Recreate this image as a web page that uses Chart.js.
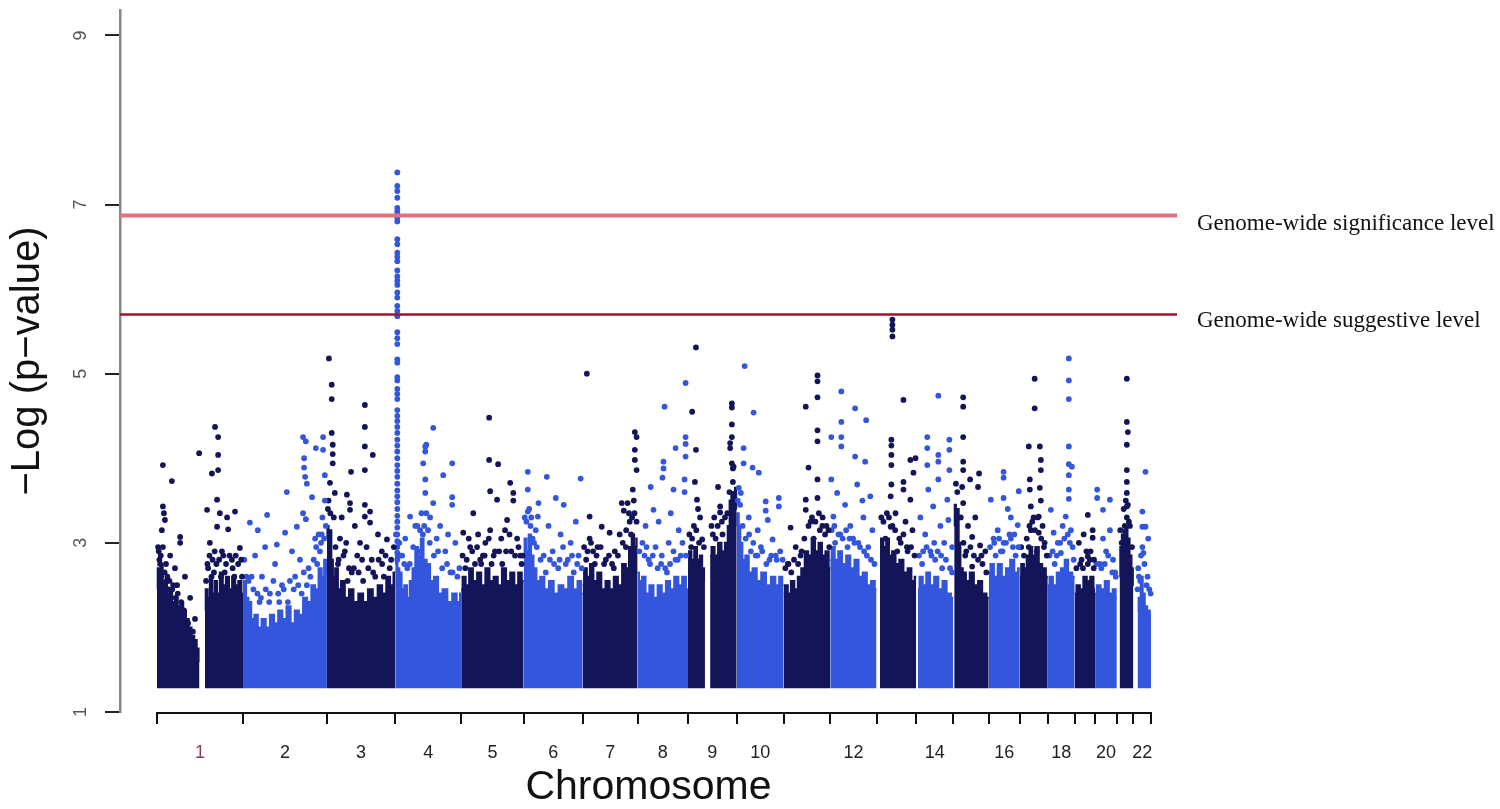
<!DOCTYPE html>
<html>
<head>
<meta charset="utf-8">
<script src="https://cdn.jsdelivr.net/npm/chart.js@4.4.0/dist/chart.umd.min.js"></script>
<style>
  html, body { margin: 0; background: #fff; }
  #wrap { width: 1500px; height: 809px; }
</style>
</head>
<body>
<div id="wrap"><canvas id="manhattan" width="1500" height="809"></canvas></div>
<script>
// Chromosome lengths (Mb) and axis labels
const chromLengthsMb = [249, 243, 198, 191, 181, 171, 159, 146, 141, 136, 135, 134, 115, 107, 103, 90, 81, 78, 59, 63, 48, 51];
const chromAxisLabels = ['1', '2', '3', '4', '5', '6', '7', '8', '9', '10', '', '12', '', '14', '', '16', '', '18', '', '20', '', '22'];
const yTicks = [1, 3, 5, 7, 9];

const significanceLevel = 6.87;
const suggestiveLevel = 5.7;
const bandBase = 1.28;

// Top of the dense SNP mass per chromosome: [position Mb, -log10 p]
const denseBands = [
    [[[0, 2.45], [4, 2.7], [9, 2.5], [14, 2.75], [19, 2.5], [26, 2.55], [32, 2.4], [40, 2.45], [48, 2.3], [56, 2.35], [64, 2.25], [72, 2.3], [80, 2.2], [88, 2.1], [96, 2.0], [104, 1.9], [112, 1.85], [118, 1.75], [123, 1.6]],
     [[139, 2.2], [143, 2.45], [150, 2.35], [156, 2.6], [163, 2.4], [170, 2.55], [178, 2.4], [186, 2.65], [195, 2.5], [204, 2.6], [213, 2.45], [222, 2.6], [231, 2.5], [240, 2.55], [249, 2.4]]],
    [[[0, 2.4], [6, 2.55], [12, 2.35], [20, 2.3], [28, 2.1], [38, 2.15], [48, 2.0], [60, 2.1], [72, 2.0], [84, 2.15], [96, 2.05], [108, 2.2], [120, 2.1], [132, 2.25], [144, 2.05], [156, 2.2], [168, 2.15], [180, 2.35], [192, 2.3], [204, 2.5], [214, 2.45], [224, 2.7], [232, 2.6], [238, 2.8], [243, 2.65]]],
    [[[0, 3.05], [3, 3.2], [7, 3.1], [11, 3.15], [15, 2.8], [20, 2.6], [28, 2.7], [36, 2.45], [46, 2.55], [58, 2.35], [70, 2.45], [84, 2.3], [98, 2.4], [112, 2.3], [126, 2.45], [140, 2.35], [154, 2.5], [166, 2.4], [178, 2.6], [188, 2.5], [198, 2.65]]],
    [[[0, 2.75], [4, 2.9], [9, 2.7], [15, 2.65], [22, 2.45], [30, 2.5], [38, 2.35], [46, 2.55], [54, 2.7], [62, 2.95], [70, 2.85], [78, 3.05], [86, 2.8], [96, 2.75], [106, 2.55], [118, 2.6], [130, 2.4], [144, 2.45], [158, 2.3], [172, 2.4], [184, 2.3], [191, 2.4]]],
    [[[0, 2.45], [8, 2.6], [18, 2.5], [28, 2.7], [40, 2.55], [52, 2.65], [64, 2.5], [76, 2.7], [88, 2.55], [100, 2.6], [112, 2.5], [124, 2.7], [136, 2.55], [148, 2.65], [160, 2.5], [170, 2.65], [181, 2.55]]],
    [[[0, 2.85], [5, 3.05], [11, 2.9], [18, 3.1], [25, 2.85], [32, 2.7], [42, 2.55], [54, 2.6], [66, 2.45], [80, 2.55], [94, 2.4], [108, 2.5], [122, 2.45], [136, 2.6], [150, 2.45], [162, 2.55], [171, 2.4]]],
    [[[0, 2.5], [8, 2.7], [16, 2.6], [26, 2.75], [36, 2.55], [48, 2.65], [60, 2.45], [72, 2.55], [84, 2.45], [96, 2.6], [108, 2.5], [120, 2.75], [130, 2.7], [138, 2.95], [146, 3.1], [152, 2.95], [159, 3.05]]],
    [[[0, 2.65], [8, 2.55], [18, 2.6], [28, 2.4], [40, 2.5], [52, 2.35], [64, 2.5], [76, 2.4], [88, 2.55], [100, 2.45], [112, 2.6], [124, 2.5], [134, 2.6], [146, 2.45]]],
    [[[0, 2.75], [6, 2.9], [14, 2.8], [22, 2.95], [30, 2.8], [38, 2.85], [44, 2.7], [49, 2.55]],
     [[64, 2.85], [72, 2.95], [82, 2.85], [92, 3.0], [102, 2.9], [112, 3.0], [118, 3.2], [123, 3.5], [128, 3.6], [134, 3.55], [138, 3.65], [141, 3.4]]],
    [[[0, 3.2], [4, 3.35], [8, 3.2], [13, 3.0], [20, 2.8], [30, 2.85], [40, 2.65], [52, 2.7], [64, 2.55], [78, 2.65], [92, 2.5], [106, 2.6], [118, 2.5], [128, 2.6], [136, 2.5]]],
    [[[0, 2.4], [8, 2.5], [16, 2.4], [26, 2.55], [36, 2.45], [46, 2.6], [56, 2.7], [66, 2.9], [76, 2.85], [86, 3.05], [96, 2.9], [106, 3.0], [116, 2.85], [126, 2.9], [135, 2.7]]],
    [[[0, 2.8], [8, 2.95], [18, 2.8], [28, 2.9], [40, 2.75], [52, 2.85], [64, 2.7], [76, 2.8], [88, 2.6], [100, 2.65], [112, 2.5], [124, 2.55], [134, 2.45]]],
    [[[10, 2.85], [16, 3.05], [24, 2.95], [32, 3.05], [40, 2.85], [50, 2.9], [60, 2.75], [72, 2.8], [84, 2.65], [96, 2.7], [106, 2.55], [115, 2.6]]],
    [[[5, 2.45], [14, 2.6], [24, 2.5], [34, 2.65], [46, 2.5], [58, 2.6], [70, 2.45], [82, 2.55], [94, 2.4], [107, 2.35]]],
    [[[3, 3.2], [6, 3.45], [10, 3.35], [14, 3.4], [18, 3.0], [24, 2.7], [32, 2.65], [42, 2.55], [54, 2.65], [66, 2.5], [78, 2.55], [90, 2.4], [103, 2.35]]],
    [[[0, 2.65], [10, 2.75], [20, 2.6], [32, 2.75], [44, 2.6], [56, 2.7], [68, 2.8], [80, 2.65], [90, 2.7]]],
    [[[0, 2.6], [8, 2.75], [16, 2.7], [24, 2.85], [32, 2.95], [40, 2.85], [50, 2.95], [60, 2.75], [70, 2.7], [81, 2.6]]],
    [[[0, 2.5], [10, 2.6], [20, 2.5], [32, 2.65], [44, 2.7], [54, 2.8], [64, 2.65], [78, 2.6]]],
    [[[0, 2.4], [10, 2.5], [20, 2.45], [30, 2.6], [40, 2.55], [50, 2.6], [59, 2.45]]],
    [[[0, 2.4], [10, 2.5], [22, 2.45], [34, 2.55], [46, 2.4], [56, 2.45], [63, 2.35]]],
    [[[8, 2.6], [12, 2.95], [17, 3.1], [22, 3.15], [28, 3.2], [34, 3.05], [40, 2.85], [45, 2.7], [48, 2.5]]],
    [[[12, 2.2], [18, 2.35], [24, 2.6], [30, 2.4], [36, 2.25], [44, 2.2], [51, 2.15]]]
];

// Individual SNPs above the dense mass: [position Mb, -log10 p]
const snpPoints = [
    [[17, 3.92], [43, 3.73], [17, 3.43], [20, 3.35], [23, 3.27], [14, 3.15], [67, 3.07], [67, 3.0], [17, 2.95], [38, 2.85], [9, 2.75], [52, 2.7], [81, 2.6], [96, 2.35], [110, 2.1], [122, 4.06],
     [168, 4.37], [177, 4.25], [177, 4.04], [177, 3.86], [159, 3.82], [174, 3.51], [145, 3.39], [182, 3.35], [203, 3.3], [226, 3.37], [174, 3.19], [206, 3.16], [240, 2.94], [153, 3.0], [188, 2.9],
     [217, 2.8], [148, 2.7], [235, 2.75], [165, 2.65], [12, 2.6], [28, 2.55], [5, 2.9], [33, 2.45], [60, 2.4], [47, 2.5], [142, 2.55], [158, 2.6], [196, 2.65], [224, 2.6], [246, 2.6], [185, 2.6]],
    [[174, 4.25], [182, 4.2], [211, 4.12], [177, 4.0], [177, 3.89], [180, 3.78], [185, 3.7], [127, 3.6], [200, 3.54], [70, 3.33], [20, 3.24], [43, 3.15], [122, 3.12], [156, 3.19], [174, 3.35],
     [182, 3.28], [98, 2.98], [64, 2.95], [142, 2.9], [35, 2.85], [93, 2.75], [165, 2.8], [209, 3.05], [223, 2.9], [55, 2.6], [113, 2.5], [151, 2.6], [78, 2.4], [130, 2.3], [232, 4.25], [232, 4.1],
     [237, 3.8], [237, 3.5], [230, 3.3], [228, 3.1], [215, 2.75], [195, 2.6], [10, 2.6], [30, 2.45], [48, 2.3], [105, 2.3], [170, 2.4], [185, 2.5]],
    [[6, 5.18], [14, 4.87], [14, 4.7], [110, 4.63], [110, 4.37], [110, 4.14], [133, 4.04], [110, 3.86], [70, 3.84], [17, 4.16], [17, 4.05], [17, 3.94], [9, 3.71], [23, 3.59], [58, 3.57], [67, 3.47],
     [67, 3.39], [110, 3.45], [125, 3.37], [110, 3.31], [125, 3.24], [174, 3.04], [43, 3.3], [81, 3.2], [96, 3.0], [148, 3.1], [52, 2.9], [130, 2.8], [159, 2.9], [32, 2.75], [72, 2.65], [182, 2.7],
     [14, 4.3], [3, 3.4], [20, 3.3], [38, 3.05], [88, 2.85], [115, 2.95], [140, 2.6], [165, 2.6], [105, 2.55], [60, 2.55]],
    [[90, 4.16], [81, 3.94], [43, 3.31], [110, 4.36], [87, 4.14], [87, 4.08], [165, 3.94], [139, 3.8], [87, 3.75], [87, 3.59], [110, 3.47], [165, 3.54], [165, 3.45], [29, 3.05], [58, 3.2], [101, 3.3],
     [130, 3.2], [153, 3.1], [174, 3.0], [67, 2.9], [14, 2.85], [145, 2.9], [49, 2.5], [90, 3.35], [95, 3.15], [120, 3.05], [80, 3.1], [35, 2.7], [180, 2.6], [160, 2.65]],
    [[81, 4.48], [81, 3.98], [107, 3.93], [84, 3.61], [142, 3.71], [104, 3.51], [151, 3.59], [151, 3.5], [35, 3.35], [6, 3.12], [84, 3.15], [133, 3.27], [55, 2.8], [127, 3.15], [26, 2.95], [70, 3.0],
     [98, 2.9], [162, 3.05], [171, 2.85], [49, 3.1], [119, 2.75], [12, 2.7], [40, 2.75], [88, 2.75], [145, 2.9], [175, 2.75], [63, 2.85]],
    [[12, 3.84], [67, 3.78], [12, 3.63], [93, 3.53], [43, 3.47], [116, 3.45], [41, 3.31], [12, 3.37], [165, 3.76], [151, 3.25], [72, 3.2], [107, 3.1], [136, 3.0], [26, 3.05], [84, 2.9], [49, 2.8],
     [122, 2.75], [159, 2.85], [64, 2.65], [100, 2.7], [145, 2.65], [20, 3.2], [35, 3.15]],
    [[12, 5.0], [20, 3.31], [55, 3.19], [78, 3.12], [113, 3.47], [119, 3.38], [130, 3.47], [20, 3.05], [151, 4.31], [156, 4.25], [151, 4.1], [151, 3.98], [156, 3.86], [145, 3.63], [107, 3.1],
     [43, 2.95], [93, 2.9], [136, 3.25], [67, 2.8], [35, 2.75], [140, 3.1], [150, 3.35], [125, 2.95], [85, 2.75], [10, 2.8]],
    [[78, 4.61], [139, 4.89], [110, 4.12], [139, 4.25], [139, 4.17], [139, 4.02], [75, 3.96], [75, 3.88], [72, 3.77], [38, 3.66], [104, 3.63], [46, 3.39], [136, 3.75], [136, 3.6], [23, 3.2],
     [61, 3.25], [96, 3.35], [119, 3.15], [14, 3.0], [52, 2.95], [90, 3.0], [125, 2.85], [32, 2.8], [68, 2.75], [110, 2.8], [85, 2.65]],
    [[23, 5.31], [12, 4.55], [23, 4.1], [20, 3.72], [26, 3.51], [29, 3.4], [41, 3.04], [17, 3.2], [35, 3.3], [9, 2.95], [127, 4.65], [127, 4.6], [127, 4.4], [127, 4.25], [122, 4.18], [122, 4.12],
     [127, 3.94], [130, 3.88], [130, 3.72], [87, 3.66], [93, 3.43], [93, 3.36], [72, 3.1], [107, 3.3], [100, 3.1], [80, 3.05]],
    [[23, 5.09], [49, 4.54], [20, 4.12], [20, 3.94], [46, 3.89], [64, 3.83], [12, 3.59], [84, 3.49], [122, 3.53], [122, 3.43], [84, 3.38], [90, 3.27], [61, 3.15], [104, 3.04], [35, 3.3], [70, 2.95],
     [113, 2.85], [41, 2.9], [133, 2.8], [55, 2.85], [95, 2.8]],
    [[64, 4.61], [98, 4.98], [98, 4.91], [98, 4.72], [98, 4.33], [98, 4.2], [72, 3.89], [98, 3.75], [64, 3.51], [64, 3.39], [98, 3.53], [78, 3.25], [20, 3.18], [113, 3.3], [130, 3.15], [35, 2.95],
     [49, 2.85], [12, 2.75], [87, 3.05], [105, 3.15], [120, 3.1]],
    [[32, 4.79], [32, 4.43], [32, 4.25], [32, 4.14], [3, 4.25], [72, 4.59], [104, 4.45], [72, 4.02], [101, 3.96], [3, 3.75], [20, 3.59], [78, 3.69], [116, 3.55], [93, 3.5], [43, 3.45], [9, 3.31],
     [96, 3.3], [58, 3.2], [29, 3.1], [122, 3.15], [81, 3.0], [14, 3.0], [110, 2.95], [50, 2.95], [66, 3.05]],
    [[46, 5.64], [46, 5.58], [46, 5.52], [46, 5.44], [78, 4.69], [43, 4.22], [43, 4.15], [43, 4.04], [43, 3.92], [43, 3.69], [78, 3.72], [78, 3.63], [98, 3.98], [113, 4.0], [107, 3.83], [41, 3.55],
     [98, 3.51], [41, 3.19], [55, 3.35], [84, 3.25], [104, 3.15], [26, 3.05], [70, 3.0], [90, 2.9], [60, 2.9]],
    [[64, 4.74], [32, 4.25], [32, 4.12], [64, 4.04], [64, 3.96], [32, 3.92], [64, 3.75], [96, 4.22], [96, 4.1], [96, 3.86], [35, 3.63], [49, 3.43], [90, 3.51], [93, 3.27], [12, 3.3], [26, 3.1],
     [70, 3.2], [81, 3.0], [41, 2.9], [104, 2.95], [17, 2.75], [55, 2.8], [75, 2.7]],
    [[29, 4.72], [29, 4.61], [29, 4.25], [29, 3.96], [29, 3.86], [49, 3.75], [75, 3.82], [72, 3.66], [26, 3.66], [29, 3.47], [55, 3.07], [78, 2.97], [55, 2.72], [93, 2.9], [64, 3.3], [43, 3.2],
     [85, 2.75], [35, 2.85]],
    [[43, 3.84], [43, 3.77], [6, 3.51], [64, 3.3], [87, 3.61], [43, 3.53], [84, 3.21], [43, 3.0], [14, 3.05], [26, 3.15], [70, 2.95], [55, 3.4], [20, 2.85], [78, 2.85], [35, 2.9], [60, 3.1]],
    [[43, 4.94], [43, 4.59], [26, 4.14], [58, 4.14], [61, 3.98], [61, 3.86], [29, 3.75], [29, 3.63], [58, 3.65], [32, 3.43], [61, 3.5], [55, 3.31], [32, 3.15], [55, 3.12], [26, 2.95], [72, 3.0],
     [12, 2.85], [49, 2.9], [40, 3.3], [66, 3.2]],
    [[61, 5.18], [61, 4.92], [61, 4.7], [61, 4.14], [61, 3.93], [70, 3.9], [61, 3.8], [61, 3.63], [61, 3.52], [9, 3.39], [52, 3.31], [17, 3.12], [38, 2.88], [29, 3.0], [67, 3.15], [43, 3.2],
     [20, 2.75], [75, 2.8]],
    [[38, 3.33], [52, 3.15], [52, 3.06], [38, 2.84], [38, 2.75], [12, 3.0], [26, 3.1], [46, 2.9], [20, 2.8], [55, 2.7]],
    [[6, 3.63], [6, 3.53], [23, 3.39], [43, 3.51], [43, 3.15], [23, 3.05], [52, 2.8], [32, 2.9], [14, 2.75], [58, 2.65]],
    [[29, 4.94], [29, 4.43], [32, 4.31], [29, 4.16], [29, 3.86], [29, 3.72], [29, 3.59], [29, 3.43], [29, 3.3], [23, 3.2], [14, 3.0], [35, 3.25]],
    [[35, 3.84], [26, 3.37], [26, 3.19], [35, 3.19], [29, 2.88], [43, 3.05], [14, 2.7], [41, 2.6], [12, 2.45], [20, 2.55]]
];

// Speckled SNPs just above the dense mass: [position Mb, -log10 p]
const speckles = [
    [[3, 2.95], [7, 2.8], [11, 2.85], [22, 2.65], [26, 2.75], [30, 2.6], [36, 2.55], [44, 2.45], [54, 2.35], [58, 2.5], [70, 2.3], [78, 2.2], [90, 2.05], [104, 1.95], [146, 2.75], [152, 2.85],
     [161, 2.8], [167, 2.9], [172, 2.75], [180, 2.8], [192, 2.85], [200, 2.75], [210, 2.85], [219, 2.7], [228, 2.85], [244, 2.8]],
    [[4, 2.8], [16, 2.55], [25, 2.6], [42, 2.4], [52, 2.35], [66, 2.45], [76, 2.3], [88, 2.55], [102, 2.4], [118, 2.45], [136, 2.55], [147, 2.45], [160, 2.5], [176, 2.65], [190, 2.7], [205, 2.8],
     [212, 2.95], [219, 3.1], [226, 3.0], [235, 3.05], [240, 3.2]],
    [[5, 3.5], [10, 3.35], [25, 2.95], [34, 2.8], [48, 2.85], [56, 3.0], [64, 2.7], [78, 2.7], [92, 2.65], [102, 2.8], [120, 2.7], [134, 2.65], [150, 2.8], [160, 2.75], [170, 2.85], [186, 2.8], [194, 2.95]],
    [[2, 3.1], [12, 3.0], [20, 2.85], [26, 2.75], [42, 2.75], [52, 2.95], [64, 3.2], [72, 3.15], [76, 3.35], [84, 3.2], [100, 3.0], [112, 2.85], [124, 2.9], [136, 2.7], [150, 2.75], [166, 2.65], [186, 2.7]],
    [[4, 2.85], [16, 2.8], [22, 3.05], [32, 2.9], [46, 2.95], [58, 2.75], [68, 2.85], [80, 3.05], [94, 2.85], [110, 2.9], [116, 3.05], [130, 2.9], [140, 3.1], [156, 2.85], [166, 2.95], [178, 2.85]],
    [[3, 3.3], [8, 3.25], [16, 3.4], [22, 3.3], [30, 3.0], [38, 2.95], [58, 2.85], [76, 2.8], [88, 2.75], [104, 2.8], [114, 2.95], [128, 2.8], [140, 2.85], [155, 2.75], [168, 2.7]],
    [[4, 2.95], [14, 2.9], [24, 3.0], [30, 2.9], [40, 2.85], [52, 2.95], [62, 2.75], [76, 2.85], [90, 2.7], [102, 2.85], [116, 3.0], [126, 3.15], [134, 3.35], [143, 3.3], [148, 3.5], [156, 3.25]],
    [[5, 2.9], [20, 2.85], [26, 2.95], [36, 2.75], [44, 2.85], [58, 2.7], [70, 2.85], [80, 2.7], [94, 2.75], [104, 2.9], [116, 2.8], [130, 3.0], [140, 2.85]],
    [[4, 3.1], [12, 3.05], [24, 3.15], [32, 3.0], [46, 2.95], [68, 3.2], [76, 3.3], [86, 3.2], [98, 3.25], [114, 3.35], [132, 3.9], [120, 3.6]],
    [[3, 3.5], [6, 3.65], [10, 3.45], [17, 3.2], [26, 3.05], [36, 3.1], [48, 3.0], [60, 2.85], [74, 2.9], [86, 2.75], [100, 2.85], [116, 2.8], [126, 2.9]],
    [[5, 2.7], [14, 2.75], [22, 2.65], [30, 2.8], [42, 2.75], [52, 2.9], [60, 3.05], [72, 3.2], [82, 3.3], [92, 3.25], [102, 3.35], [112, 3.2], [124, 3.2], [132, 2.95]],
    [[4, 3.15], [12, 3.2], [24, 3.1], [36, 3.05], [46, 3.15], [56, 3.05], [70, 3.0], [86, 2.95], [98, 2.9], [106, 2.85], [118, 2.8], [128, 2.75]],
    [[14, 3.3], [20, 3.25], [30, 3.35], [36, 3.3], [46, 3.2], [54, 3.15], [66, 3.05], [78, 3.1], [88, 2.95], [100, 2.95], [110, 2.85]],
    [[8, 2.85], [20, 2.9], [30, 2.95], [44, 2.85], [52, 3.0], [62, 2.9], [72, 2.85], [86, 2.8], [98, 2.7], [104, 2.65]],
    [[8, 3.7], [12, 3.6], [22, 3.3], [30, 3.0], [38, 2.9], [50, 2.95], [60, 2.85], [72, 2.8], [82, 2.85], [96, 2.65]],
    [[4, 2.95], [16, 3.0], [30, 3.05], [40, 2.9], [50, 3.0], [64, 3.05], [74, 3.1], [86, 2.95]],
    [[4, 2.95], [20, 3.05], [28, 3.2], [36, 3.25], [44, 3.15], [52, 3.3], [62, 3.05], [70, 2.95], [78, 2.85]],
    [[5, 2.85], [14, 2.9], [26, 2.85], [36, 3.0], [48, 3.05], [58, 3.1], [64, 3.0], [72, 2.95]],
    [[5, 2.7], [16, 2.75], [24, 2.7], [34, 2.9], [44, 2.8], [56, 2.8]],
    [[4, 2.75], [18, 2.7], [28, 2.75], [38, 2.85], [50, 2.65], [60, 2.6]],
    [[10, 3.15], [20, 3.4], [26, 3.5], [32, 3.45], [38, 3.2], [44, 2.95]],
    [[16, 2.6], [22, 2.85], [26, 2.95], [32, 2.75], [38, 2.5], [46, 2.45], [50, 2.4]]
];

// The chromosome 4 signal column
const chr4PeakMb = 6;
const chr4PeakValues = [7.38, 7.22, 7.16, 7.08, 6.96, 6.92, 6.88, 6.84, 6.8, 6.59, 6.53, 6.43, 6.38, 6.33, 6.22, 6.15, 6.1, 6.05, 5.96, 5.9,
    5.8, 5.74, 5.68, 5.49, 5.42, 5.35, 5.17, 5.13, 4.96, 4.92, 4.82, 4.76, 4.7, 4.57, 4.5, 4.44, 4.37, 4.3, 4.22, 4.15,
    4.08, 4.0, 3.92, 3.85, 3.78, 3.7, 3.62, 3.55, 3.48, 3.4, 3.32, 3.25, 3.18, 3.1, 3.02, 2.95, 2.88, 2.8];

const chromColors = ['#141458', '#3456dc'];

// Cumulative offsets along the genome
let acc = 0;
const offsets = chromLengthsMb.map(len => { const o = acc; acc += len; return o; });
const genomeLength = acc;
const xMin = -107.2;
const xMax = genomeLength + 75.3;

const datasets = [];

// Dense mass of each chromosome
denseBands.forEach((segments, i) => {
    segments.forEach(seg => {
        datasets.push({
            data: seg.map(([p, v]) => ({ x: offsets[i] + p, y: v })),
            backgroundColor: chromColors[i % 2],
            borderColor: chromColors[i % 2],
            borderWidth: 2,
            pointRadius: 0,
            stepped: 'middle',
            fill: { value: bandBase },
            order: 3
        });
    });
});

// Scattered SNPs
snpPoints.forEach((pts, i) => {
    const data = pts.concat(speckles[i]).map(([p, v]) => ({ x: offsets[i] + p, y: v }));
    if (i === 3) chr4PeakValues.forEach(v => data.push({ x: offsets[3] + chr4PeakMb, y: v }));
    datasets.push({
        data,
        showLine: false,
        backgroundColor: chromColors[i % 2],
        borderWidth: 0,
        pointRadius: 2.9,
        order: 2
    });
});

// Threshold lines
datasets.push({
    data: [{ x: xMin, y: significanceLevel }, { x: xMax, y: significanceLevel }],
    borderColor: '#e2707f', borderWidth: 4, pointRadius: 0, fill: false, order: 1
});
datasets.push({
    data: [{ x: xMin, y: suggestiveLevel }, { x: xMax, y: suggestiveLevel }],
    borderColor: '#a3102c', borderWidth: 2.5, pointRadius: 0, fill: false, order: 1
});

// x ticks: boundaries get tick marks, centres get labels
const xTicks = [];
offsets.forEach((o, i) => {
    xTicks.push({ value: o, bound: true, name: '' });
    xTicks.push({ value: o + chromLengthsMb[i] / 2, bound: false, name: chromAxisLabels[i] });
});
xTicks.push({ value: genomeLength, bound: true, name: '' });

const extras = {
    id: 'extras',
    afterDraw(chart) {
        const { ctx, scales: { x, y } } = chart;
        ctx.save();
        // detached x axis line from first to last boundary
        const yb = Math.round(y.getPixelForValue(1)) + 1;
        ctx.strokeStyle = '#111';
        ctx.lineWidth = 2;
        ctx.beginPath();
        ctx.moveTo(x.getPixelForValue(0), yb);
        ctx.lineTo(x.getPixelForValue(genomeLength), yb);
        ctx.stroke();
        // threshold captions
        ctx.fillStyle = '#111';
        ctx.font = '23px "Liberation Serif", serif';
        ctx.textBaseline = 'middle';
        ctx.textAlign = 'left';
        ctx.fillText('Genome-wide significance level', x.right + 20, y.getPixelForValue(significanceLevel) + 8);
        ctx.fillText('Genome-wide suggestive level', x.right + 20, y.getPixelForValue(suggestiveLevel) + 6);
        ctx.restore();
    }
};

new Chart(document.getElementById('manhattan'), {
    type: 'line',
    data: { datasets },
    options: {
        responsive: false,
        devicePixelRatio: 1,
        animation: false,
        layout: { padding: { top: 10, right: 323, left: 0, bottom: 0 } },
        plugins: { legend: { display: false }, tooltip: { enabled: false } },
        scales: {
            x: {
                type: 'linear',
                min: xMin,
                max: xMax,
                afterBuildTicks: scale => { scale.ticks = xTicks.map(t => ({ ...t })); },
                afterFit: scale => { scale.height = 97; scale.paddingLeft = 0; scale.paddingRight = 0; },
                border: { display: false },
                grid: {
                    drawOnChartArea: false,
                    drawTicks: true,
                    tickLength: 12,
                    lineWidth: 2,
                    color: ctx => (ctx.tick && ctx.tick.bound) ? '#111' : 'rgba(0,0,0,0)'
                },
                ticks: {
                    autoSkip: false,
                    maxRotation: 0,
                    minRotation: 0,
                    padding: 18,
                    font: { size: 18, family: 'Liberation Sans' },
                    color: ctx => (ctx.tick && ctx.tick.name === '1') ? '#8a3a5c' : '#222',
                    callback: (value, index, ticks) => ticks[index].name
                },
                title: {
                    display: true,
                    text: 'Chromosome',
                    color: '#111',
                    font: { size: 41, family: 'Liberation Sans', lineHeight: 1 },
                    padding: { top: 0, bottom: 1 }
                }
            },
            y: {
                min: 1,
                max: 9.3,
                afterBuildTicks: scale => { scale.ticks = yTicks.map(v => ({ value: v })); },
                afterFit: scale => { scale.width = 120; scale.paddingTop = 0; scale.paddingBottom = 0; },
                border: { display: true, color: '#888', width: 2.5 },
                grid: { drawOnChartArea: false, drawTicks: true, tickLength: 15, lineWidth: 2, color: '#222' },
                ticks: {
                    minRotation: 90,
                    maxRotation: 90,
                    crossAlign: 'center',
                    padding: 19,
                    font: { size: 18, family: 'Liberation Sans' },
                    color: '#555'
                },
                title: {
                    display: true,
                    text: '\u2212Log (p\u2212value)',
                    color: '#111',
                    font: { size: 40, family: 'Liberation Sans', lineHeight: 1 },
                    padding: { top: 8, bottom: 0 }
                }
            }
        }
    },
    plugins: [extras]
});
</script>
</body>
</html>
